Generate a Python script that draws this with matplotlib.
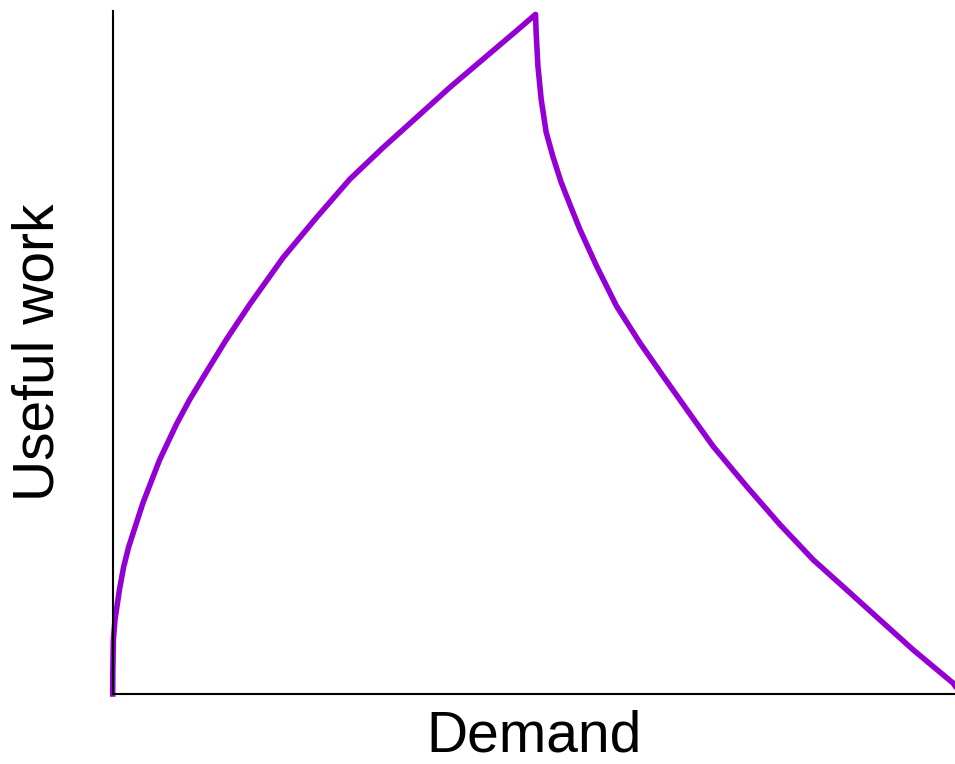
import matplotlib
matplotlib.use("Agg")
import matplotlib.pyplot as plt

plt.rcParams['font.family'] = ['Liberation Sans', 'DejaVu Sans']

# demand / useful work (peak normalised to 1)
demand = [0.0, 0.0002, 0.0008, 0.0027, 0.0080, 0.0130, 0.0190, 0.0360,
          0.0558, 0.0757, 0.0914, 0.1152, 0.1350, 0.1627, 0.2023, 0.2419,
          0.2815, 0.3210, 0.3607, 0.4002, 0.4398, 0.4795, 0.5020,
          0.5027, 0.5048, 0.5087, 0.5146, 0.5226, 0.5324, 0.5440, 0.5546,
          0.5745, 0.5982, 0.6259, 0.6536, 0.6853, 0.7129, 0.7526, 0.7922,
          0.8317, 0.8714, 0.9109, 0.9505, 0.9980, 1.0]
work = [0.0, 0.035, 0.079, 0.1085, 0.1525, 0.1860, 0.2155, 0.2801,
        0.3431, 0.3950, 0.4311, 0.4795, 0.5191, 0.5704, 0.6389, 0.6975,
        0.7537, 0.8000, 0.8441, 0.8881, 0.9296, 0.9711, 0.995,
        0.9692, 0.9198, 0.8710, 0.8226, 0.7870, 0.7493, 0.7130, 0.6804,
        0.6265, 0.5679, 0.5142, 0.4652, 0.4100, 0.3626, 0.3040, 0.2480,
        0.1965, 0.1525, 0.1085, 0.0645, 0.0157, 0.0120]

fig = plt.figure(figsize=(9.55, 7.64), dpi=100)
ax = fig.add_axes([0.118, 0.0916, 0.882, 0.894])
ax.plot(demand, work, color='#9400D3', linewidth=4.0,
        solid_joinstyle='round', clip_on=False)
ax.set_xlim(0, 1)
ax.set_ylim(0, 1)
ax.set_xticks([])
ax.set_yticks([])
ax.spines['top'].set_visible(False)
ax.spines['right'].set_visible(False)
ax.spines['left'].set_linewidth(1.5)
ax.spines['bottom'].set_linewidth(1.5)
ax.set_xlabel('Demand', fontsize=41, labelpad=11)
ax.set_ylabel('Useful work', fontsize=41, labelpad=34)

fig.savefig('out.png', dpi=100)
